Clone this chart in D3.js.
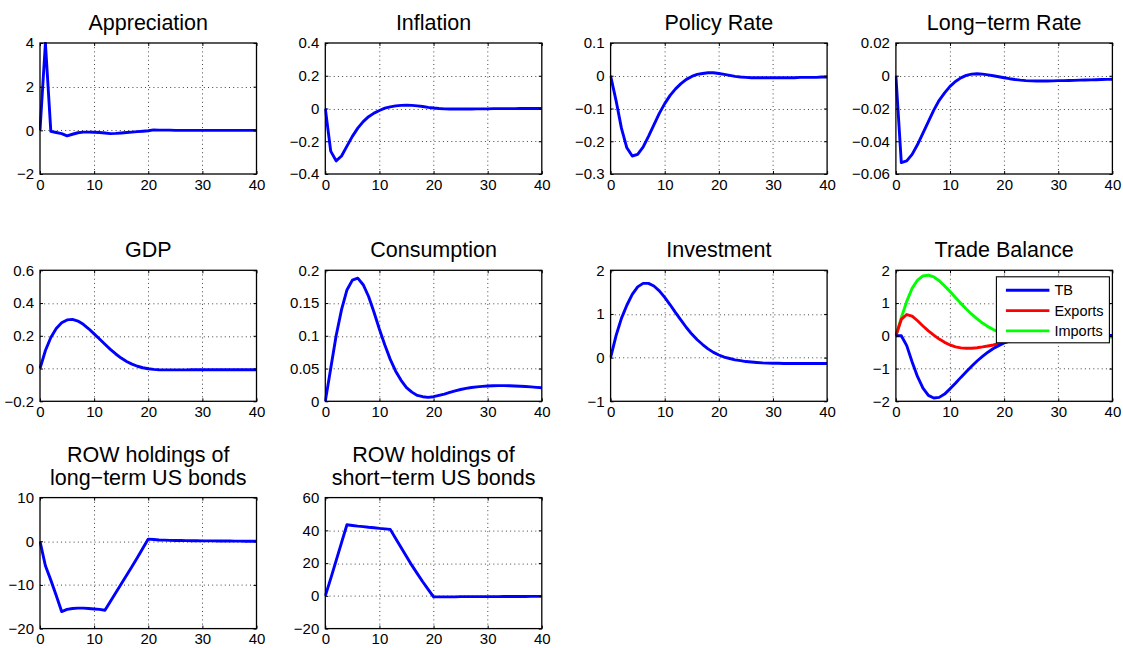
<!DOCTYPE html>
<html>
<head>
<meta charset="utf-8">
<script src="https://cdn.jsdelivr.net/npm/d3@7"></script>
<style>
  html, body { margin: 0; padding: 0; background: #fff; }
  svg { display: block; font-family: "Liberation Sans", Arial, Helvetica, sans-serif; }
</style>
</head>
<body>
<svg id="chart" width="1123" height="648"></svg>
<script>
// Impulse responses, quarters 0..40
const periods = d3.range(0, 41);

const appreciation = [0, 4.0, -0.05, -0.1, -0.15, -0.25, -0.18, -0.11, -0.08, -0.08,
  -0.09, -0.1, -0.12, -0.15, -0.14, -0.12, -0.1, -0.08, -0.06, -0.04,
  -0.02, 0.02, 0.01, 0.01, 0.01, 0.0, 0.0, 0.0, 0.0, 0.0,
  0.0, 0.0, 0.0, 0.0, 0.0, 0.0, 0.0, 0.0, 0.0, 0.0, 0.0];

const inflation = [0, -0.26, -0.32, -0.29, -0.23, -0.17, -0.12, -0.08, -0.05, -0.028,
  -0.012, 0.002, 0.01, 0.016, 0.019, 0.02, 0.019, 0.016, 0.012, 0.007,
  0.003, 0.0, -0.002, -0.003, -0.003, -0.003, -0.003, -0.003, -0.002, -0.002,
  -0.002, -0.001, -0.001, -0.001, -0.001, -0.001, 0.0, 0.0, 0.0, 0.0, 0.0];

const policyRate = [0, -0.075, -0.16, -0.22, -0.245, -0.24, -0.218, -0.185, -0.15, -0.115,
  -0.085, -0.06, -0.04, -0.024, -0.011, -0.002, 0.004, 0.007, 0.009, 0.009,
  0.007, 0.004, 0.001, -0.002, -0.004, -0.005, -0.006, -0.006, -0.006, -0.006,
  -0.006, -0.006, -0.006, -0.006, -0.006, -0.005, -0.005, -0.005, -0.005, -0.004, -0.004];

const longRate = [0, -0.053, -0.052, -0.048, -0.042, -0.035, -0.028, -0.021, -0.015, -0.0105,
  -0.0065, -0.0035, -0.0013, 0.0002, 0.001, 0.0012, 0.001, 0.0005, 0.0, -0.0006,
  -0.0012, -0.0018, -0.0023, -0.0027, -0.003, -0.0031, -0.0032, -0.0032, -0.0032, -0.0031,
  -0.003, -0.003, -0.0029, -0.0028, -0.0027, -0.0026, -0.0025, -0.0024, -0.0023, -0.0022, -0.0021];

const gdp = [0, 0.11, 0.19, 0.245, 0.28, 0.297, 0.3, 0.29, 0.27, 0.243,
  0.212, 0.18, 0.148, 0.117, 0.089, 0.064, 0.043, 0.027, 0.014, 0.005,
  -0.001, -0.005, -0.007, -0.008, -0.008, -0.008, -0.008, -0.008, -0.007, -0.007,
  -0.007, -0.007, -0.007, -0.007, -0.007, -0.007, -0.007, -0.007, -0.007, -0.007, -0.007];

const consumption = [0, 0.05, 0.1, 0.14, 0.17, 0.185, 0.188, 0.178, 0.16, 0.136,
  0.11, 0.086, 0.064, 0.046, 0.032, 0.021, 0.014, 0.009, 0.007, 0.006,
  0.007, 0.009, 0.011, 0.0135, 0.016, 0.018, 0.0197, 0.021, 0.022, 0.0228,
  0.0234, 0.0238, 0.024, 0.024, 0.0238, 0.0234, 0.023, 0.0225, 0.022, 0.0213, 0.0206];

const investment = [0, 0.5, 0.9, 1.2, 1.45, 1.62, 1.7, 1.7, 1.64, 1.53,
  1.38, 1.21, 1.03, 0.86, 0.69, 0.54, 0.41, 0.3, 0.2, 0.12,
  0.06, 0.01, -0.02, -0.05, -0.07, -0.09, -0.1, -0.11, -0.12, -0.125,
  -0.13, -0.13, -0.135, -0.135, -0.135, -0.135, -0.135, -0.135, -0.135, -0.135, -0.135];

const tradeBalance = [0, 0.0, -0.3, -0.8, -1.25, -1.6, -1.82, -1.9, -1.88, -1.78,
  -1.62, -1.45, -1.27, -1.1, -0.93, -0.77, -0.63, -0.5, -0.39, -0.3,
  -0.22, -0.16, -0.11, -0.07, -0.04, -0.02, -0.01, 0.0, 0.01, 0.01,
  0.01, 0.01, 0.01, 0.01, 0.01, 0.01, 0.01, 0.01, 0.01, 0.01, 0.01];

const exportsResp = [0, 0.5, 0.65, 0.6, 0.46, 0.3, 0.15, 0.02, -0.1, -0.2,
  -0.28, -0.34, -0.37, -0.38, -0.38, -0.365, -0.34, -0.31, -0.28, -0.24,
  -0.2, -0.16, -0.12, -0.09, -0.06, -0.04, -0.02, -0.01, 0.0, 0.0,
  0.0, 0.0, 0.0, 0.0, 0.0, 0.0, 0.0, 0.0, 0.0, 0.0, 0.0];

const importsResp = [0, 0.55, 1.05, 1.45, 1.7, 1.83, 1.85, 1.8, 1.68, 1.52,
  1.35, 1.17, 0.99, 0.82, 0.66, 0.52, 0.39, 0.28, 0.19, 0.12,
  0.06, 0.02, -0.01, -0.03, -0.04, -0.05, -0.05, -0.05, -0.05, -0.05,
  -0.05, -0.05, -0.05, -0.05, -0.04, -0.04, -0.04, -0.04, -0.04, -0.04, -0.04];

const rowLongBonds = [0, -5.6, -8.9, -12.4, -16.1, -15.6, -15.4, -15.3, -15.3, -15.4,
  -15.5, -15.6, -15.8, -13.8, -11.8, -9.8, -7.8, -5.8, -3.7, -1.6,
  0.5, 0.4, 0.3, 0.25, 0.2, 0.18, 0.16, 0.14, 0.12, 0.11,
  0.1, 0.09, 0.08, 0.07, 0.06, 0.05, 0.04, 0.03, 0.02, 0.01, 0.0];

const rowShortBonds = [0, 10.5, 21.5, 32.5, 43.4, 43.0, 42.6, 42.3, 41.9, 41.6,
  41.2, 40.9, 40.6, 35.0, 29.5, 24.0, 18.6, 13.6, 8.6, 4.0,
  -0.6, -0.6, -0.6, -0.6, -0.6, -0.5, -0.5, -0.5, -0.5, -0.5,
  -0.5, -0.5, -0.5, -0.4, -0.4, -0.4, -0.4, -0.4, -0.3, -0.3, -0.3];

// Axis ranges and tick values for each panel
const titles = [["Appreciation"], ["Inflation"], ["Policy Rate"], ["Long\u2212term Rate"],
  ["GDP"], ["Consumption"], ["Investment"], ["Trade Balance"],
  ["ROW holdings of", "long\u2212term US bonds"], ["ROW holdings of", "short\u2212term US bonds"]];

const yDomains = [[-2, 4], [-0.4, 0.4], [-0.3, 0.1], [-0.06, 0.02],
  [-0.2, 0.6], [0, 0.2], [-1, 2], [-2, 2], [-20, 10], [-20, 60]];

const yTicks = [[-2, 0, 2, 4], [-0.4, -0.2, 0, 0.2, 0.4], [-0.3, -0.2, -0.1, 0, 0.1],
  [-0.06, -0.04, -0.02, 0, 0.02], [-0.2, 0, 0.2, 0.4, 0.6], [0, 0.05, 0.1, 0.15, 0.2],
  [-1, 0, 1, 2], [-2, -1, 0, 1, 2], [-20, -10, 0, 10], [-20, 0, 20, 40, 60]];

const xTicks = [0, 10, 20, 30, 40];

const seriesNames = ["TB", "Exports", "Imports"];

const panels = [
  [{ values: appreciation }],
  [{ values: inflation }],
  [{ values: policyRate }],
  [{ values: longRate }],
  [{ values: gdp }],
  [{ values: consumption }],
  [{ values: investment }],
  [{ values: tradeBalance, name: seriesNames[0] },
   { values: exportsResp, name: seriesNames[1] },
   { values: importsResp, name: seriesNames[2] }],
  [{ values: rowLongBonds }],
  [{ values: rowShortBonds }]
];

// ---- layout ----
const svg = d3.select("#chart");
const W = 216.5, H = 131;
const colLeft = c => 40 + c * 285.3;
const rowTop = r => 43 + r * 227.3;
const lineColors = ["#0000ff", "#ff0000", "#00ff00"];

const fmt = v => {
  let s = d3.format("~g")(v);
  return s.replace("-", "\u2212");
};

panels.forEach((series, i) => {
  const col = i % 4, row = Math.floor(i / 4);
  const x0 = colLeft(col), y0 = rowTop(row);
  const g = svg.append("g").attr("transform", `translate(${x0},${y0})`);

  const x = d3.scaleLinear().domain([0, 40]).range([0, W]);
  const y = d3.scaleLinear().domain(yDomains[i]).range([H, 0]);

  // dotted grid
  const grid = g.append("g").attr("stroke", "#444").attr("stroke-width", 1)
    .attr("stroke-dasharray", "1,3.2");
  xTicks.slice(1, -1).forEach(t => {
    grid.append("line").attr("x1", Math.round(x(t)) + 0.5).attr("x2", Math.round(x(t)) + 0.5)
      .attr("y1", 0).attr("y2", H);
  });
  yTicks[i].filter(t => t > yDomains[i][0] && t < yDomains[i][1]).forEach(t => {
    grid.append("line").attr("y1", Math.round(y(t)) + 0.5).attr("y2", Math.round(y(t)) + 0.5)
      .attr("x1", 0).attr("x2", W);
  });

  // curves
  const clipId = "clip" + i;
  g.append("clipPath").attr("id", clipId).append("rect")
    .attr("x", -1).attr("y", -1).attr("width", W + 2).attr("height", H + 2);
  const line = d3.line().x((d, k) => x(periods[k])).y(d => y(d));
  const curves = g.append("g").attr("clip-path", `url(#${clipId})`);
  series.slice().reverse().forEach((s, kk) => {
    const k = series.length - 1 - kk;
    curves.append("path").datum(s.values)
      .attr("d", line)
      .attr("fill", "none")
      .attr("stroke", lineColors[k])
      .attr("stroke-width", 2.9)
      .attr("stroke-linejoin", "round");
  });

  // axes: bottom and left with labels, ticks drawn inward
  const xAxis = d3.axisBottom(x).tickValues(xTicks).tickSizeInner(-3).tickSizeOuter(0).tickPadding(5)
    .tickFormat(fmt);
  const yAxis = d3.axisLeft(y).tickValues(yTicks[i]).tickSizeInner(-3).tickSizeOuter(0).tickPadding(6)
    .tickFormat(fmt);
  const gx = g.append("g").attr("transform", `translate(0,${H})`).call(xAxis);
  const gy = g.append("g").call(yAxis);
  const gxt = g.append("g").call(d3.axisTop(x).tickValues(xTicks).tickSizeInner(-3).tickSizeOuter(0).tickFormat(""));
  const gyr = g.append("g").attr("transform", `translate(${W},0)`)
    .call(d3.axisRight(y).tickValues(yTicks[i]).tickSizeInner(-3).tickSizeOuter(0).tickFormat(""));
  [gx, gy, gxt, gyr].forEach(a => {
    a.select(".domain").remove();
    a.selectAll("line").attr("stroke", "#000");
    a.selectAll("text").attr("fill", "#000").attr("font-size", 15)
      .attr("font-family", "Liberation Sans, Arial, sans-serif");
  });
  gx.selectAll("text").attr("dy", "0.71em");

  // box
  g.append("rect").attr("x", 0).attr("y", 0).attr("width", W).attr("height", H)
    .attr("fill", "none").attr("stroke", "#000").attr("stroke-width", 1.3);

  // title
  const lines = titles[i];
  const t = g.append("text").attr("text-anchor", "middle").attr("font-size", 21.5)
    .attr("fill", "#000").attr("x", W / 2);
  lines.forEach((ln, j) => {
    t.append("tspan").attr("x", W / 2)
      .attr("y", -13 - (lines.length - 1 - j) * 22.5)
      .text(ln);
  });

  // legend for the multi-series panel
  if (series.length > 1) {
    const lg = g.append("g").attr("transform", `translate(${W - 116},${6.5})`);
    lg.append("rect").attr("width", 113).attr("height", 66)
      .attr("fill", "#fff").attr("stroke", "#000").attr("stroke-width", 1.1);
    series.forEach((s, k) => {
      const yy = 13.5 + k * 20.3;
      lg.append("line").attr("x1", 9.5).attr("x2", 53).attr("y1", yy).attr("y2", yy)
        .attr("stroke", lineColors[k]).attr("stroke-width", 2.9);
      lg.append("text").attr("x", 58).attr("y", yy).attr("dy", "0.35em")
        .attr("font-size", 14.5).attr("fill", "#000").text(s.name);
    });
  }
});
</script>
</body>
</html>
